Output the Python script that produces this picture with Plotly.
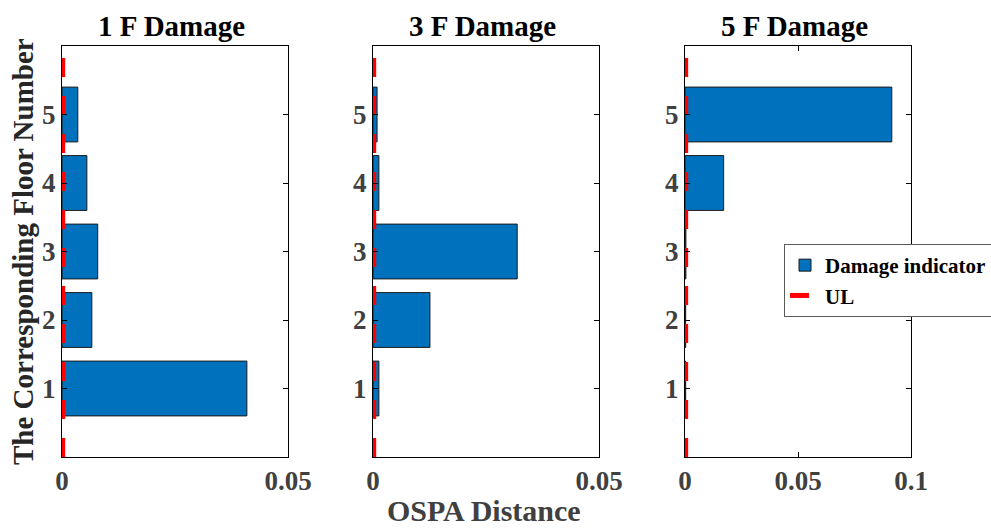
import plotly.graph_objects as go

# ---------------- data ----------------
floors = [1, 2, 3, 4, 5]
panel_titles = ["1 F Damage", "3 F Damage", "5 F Damage"]
damage_1F = [0.0409, 0.0066, 0.0079, 0.0055, 0.0035]
damage_3F = [0.0013, 0.0126, 0.0319, 0.0013, 0.0009]
damage_5F = [0.0003, 0.0003, 0.0004, 0.0171, 0.0915]
ul_floor_span = [0, 6]
ul_1F = [0.00015, 0.00015]
ul_3F = [0.00015, 0.00015]
ul_5F = [0.0003, 0.0003]
x_ranges = [[0, 0.05], [0, 0.05], [0, 0.1]]
x_tickvals = [[0, 0.05], [0, 0.05], [0, 0.05, 0.1]]
x_ticktext = [["0", "0.05"], ["0", "0.05"], ["0", "0.05", "0.1"]]
y_tickvals = [1, 2, 3, 4, 5]
y_ticktext = ["1", "2", "3", "4", "5"]
y_range = [0, 6]

damage_sets = [damage_1F, damage_3F, damage_5F]
ul_sets = [ul_1F, ul_3F, ul_5F]

# ---------------- layout geometry ----------------
W, H = 991, 528
FONT = "Liberation Serif"
BAR_COLOR = "#0072BD"
TICK_COLOR = "#404040"

x_domains = [[62 / W, 288 / W], [373 / W, 599 / W], [685 / W, 911 / W]]
y_domain = [1 - 457 / H, 1 - 46 / H]
title_centers = [171 / W, 482 / W, 794 / W]

fig = go.Figure()

for i in range(3):
    ax = "" if i == 0 else str(i + 1)
    fig.add_trace(go.Bar(
        x=damage_sets[i], y=floors, orientation="h", width=0.8,
        marker=dict(color=BAR_COLOR, line=dict(color="#1a1a1a", width=1)),
        name="Damage indicator", showlegend=(i == 2), legendrank=1,
        xaxis="x" + ax, yaxis="y" + ax,
    ))
    fig.add_trace(go.Scatter(
        x=ul_sets[i], y=ul_floor_span, mode="lines",
        line=dict(color="#FF0000", width=5, dash="19px,19px"),
        name="UL", showlegend=(i == 2), legendrank=2, cliponaxis=False,
        xaxis="x" + ax, yaxis="y" + ax,
    ))

axis_common = dict(
    showline=True, linecolor="black", linewidth=1, mirror="ticks",
    ticks="inside", ticklen=5, tickcolor="black", tickwidth=1,
    showgrid=False, zeroline=False, automargin=False,
    tickfont=dict(family=FONT, size=27, color=TICK_COLOR, weight="bold"),
)

for i in range(3):
    ax = "" if i == 0 else str(i + 1)
    fig.update_layout(**{
        "xaxis" + ax: dict(
            domain=x_domains[i], range=x_ranges[i], tickvals=x_tickvals[i],
            ticktext=x_ticktext[i], anchor="y" + ax, ticklabelstandoff=0,
            **axis_common),
        "yaxis" + ax: dict(
            domain=y_domain, range=y_range, tickvals=y_tickvals,
            ticktext=y_ticktext, anchor="x" + ax, ticklabelstandoff=0,
            **axis_common),
    })

annotations = []
for i in range(3):
    annotations.append(dict(
        text=panel_titles[i], x=title_centers[i], y=1 - 26 / H,
        xref="paper", yref="paper", xanchor="center", yanchor="middle",
        showarrow=False,
        font=dict(family=FONT, size=29, color="black", weight="bold"),
    ))
annotations.append(dict(
    text="The Corresponding Floor Number", x=23 / W, y=1 - 252 / H,
    xref="paper", yref="paper", xanchor="center", yanchor="middle",
    textangle=-90, showarrow=False,
    font=dict(family=FONT, size=29, color="#262626", weight="bold"),
))
annotations.append(dict(
    text="OSPA Distance", x=484 / W, y=0,
    xref="paper", yref="paper", xanchor="center", yanchor="bottom",
    showarrow=False, borderpad=0,
    font=dict(family=FONT, size=30, color=TICK_COLOR, weight="bold"),
))

fig.update_layout(
    width=W, height=H,
    margin=dict(l=0, r=0, t=0, b=0, autoexpand=False),
    paper_bgcolor="white", plot_bgcolor="white",
    bargap=0.2,
    annotations=annotations,
    legend=dict(
        x=784 / W, y=1 - 244 / H, xanchor="left", yanchor="top",
        bgcolor="white", bordercolor="#5a5a5a", borderwidth=1,
        font=dict(family=FONT, size=21, color="black", weight="bold"),
        itemwidth=30, tracegroupgap=0, traceorder="normal",
    ),
)

fig.write_html("out.html")
